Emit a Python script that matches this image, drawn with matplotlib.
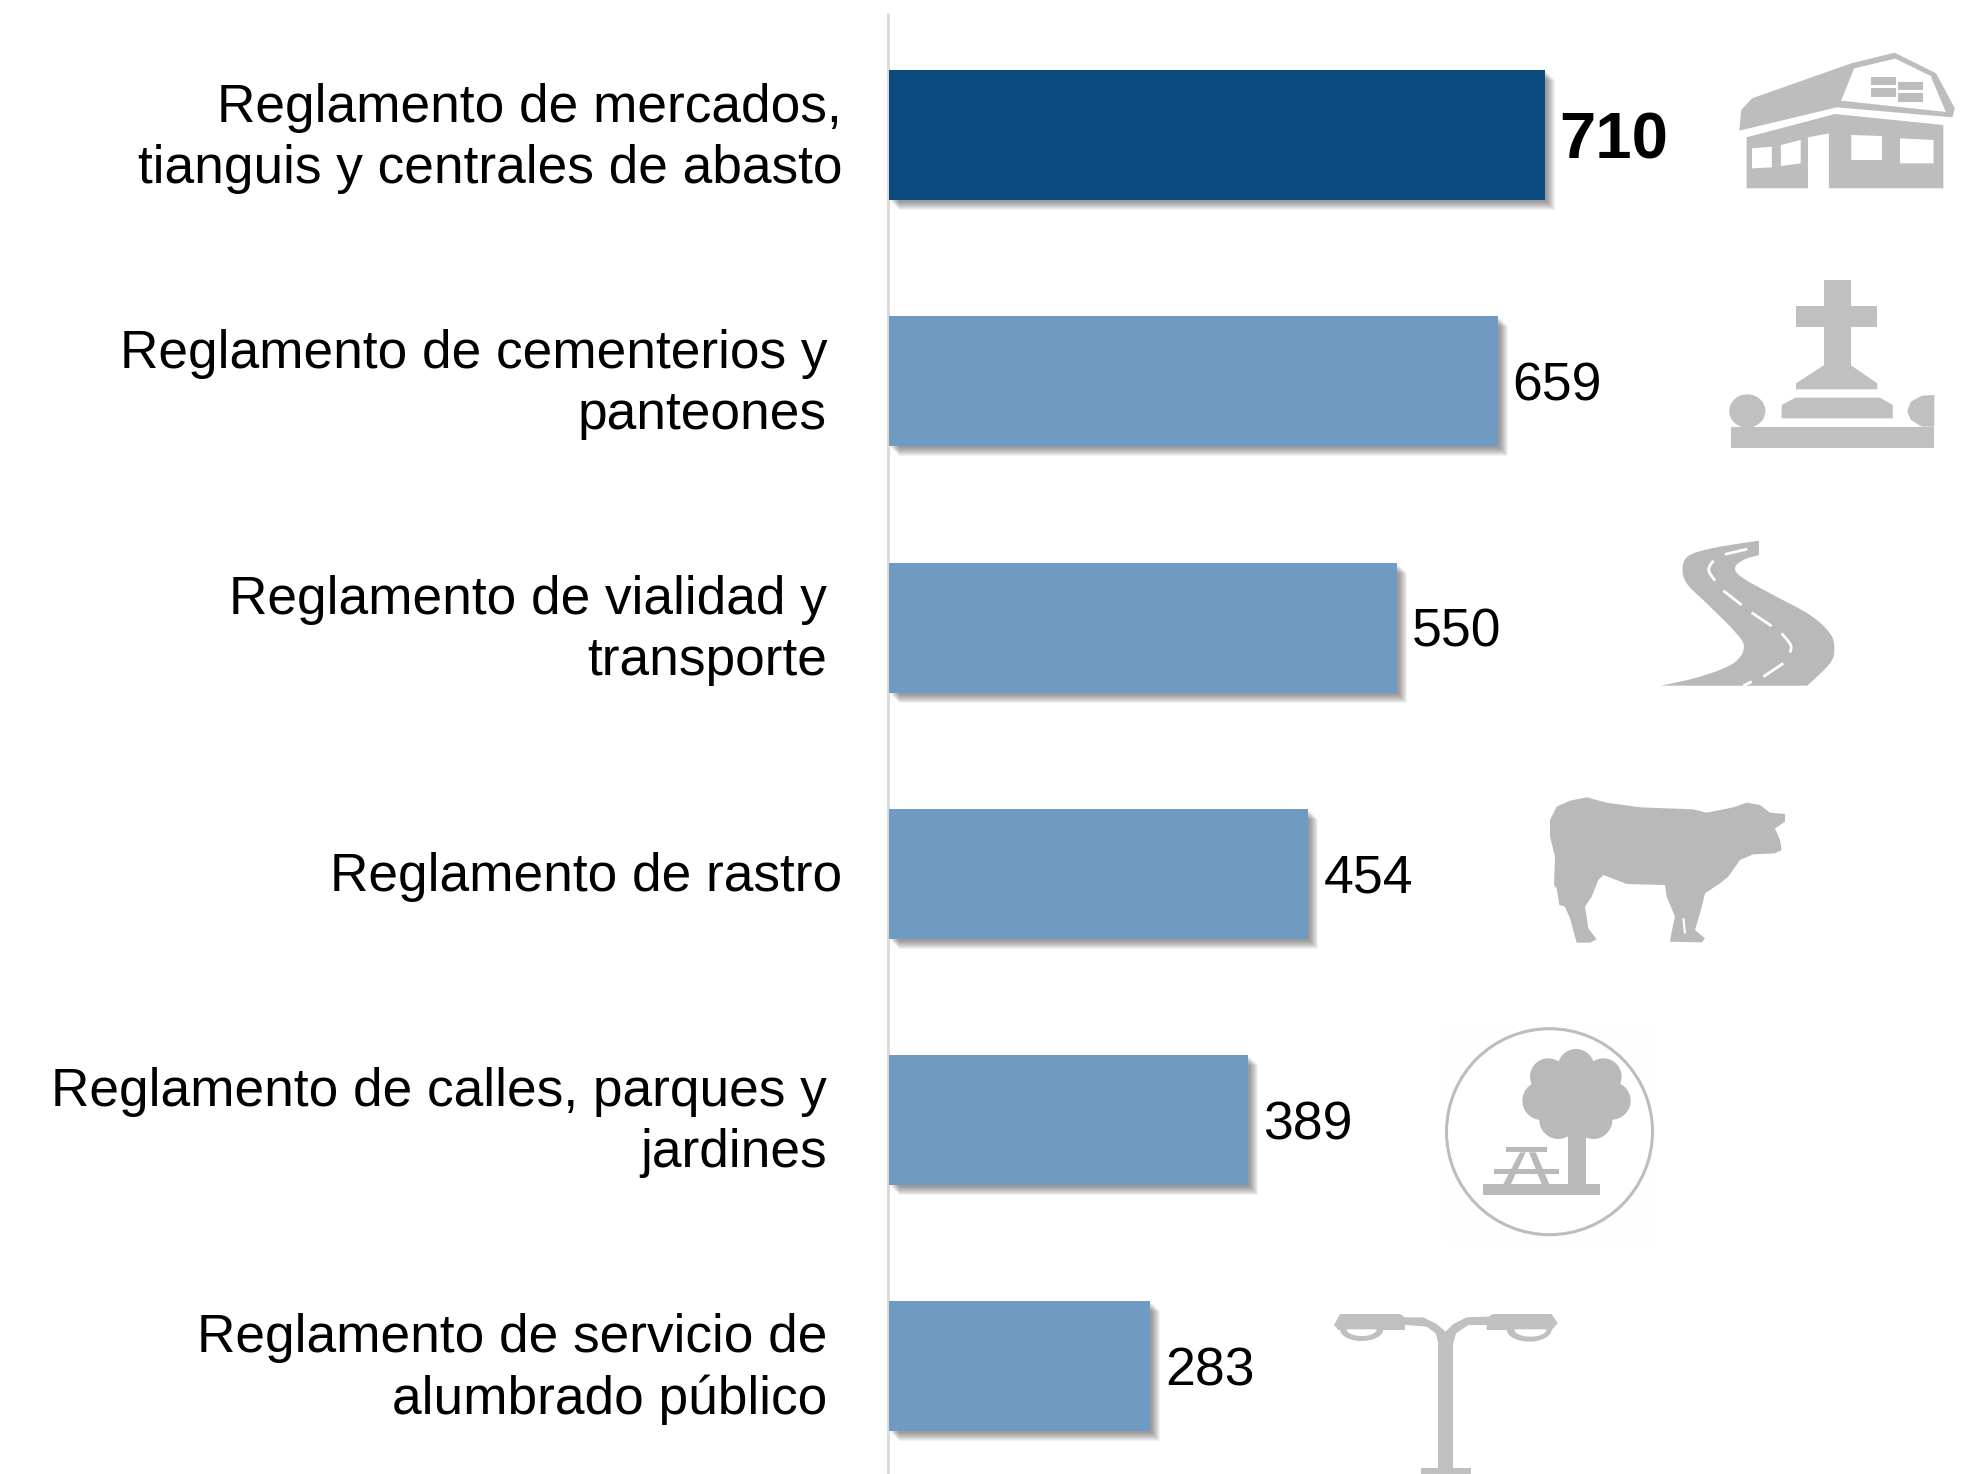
#!/usr/bin/env python3
"""Reglamentos municipales: horizontal bars with grey pictograms."""
import matplotlib

matplotlib.use("Agg")
import matplotlib.patheffects as pe
import matplotlib.pyplot as plt
import numpy as np
from matplotlib.patches import Circle, Polygon, Rectangle

categories = [
    "Reglamento de mercados,\ntianguis y centrales de abasto",
    "Reglamento de cementerios y\npanteones",
    "Reglamento de vialidad y\ntransporte",
    "Reglamento de rastro",
    "Reglamento de calles, parques y\njardines",
    "Reglamento de servicio de\nalumbrado público",
]
values = [710, 659, 550, 454, 389, 283]
label_pads = [47, 62, 62, 47, 62, 62]  # px left of the axis line

DARK = "#0a4a7f"
LIGHT = "#6f9bc2"
ICON = "#bdbdbd"
W, H = 1966, 1474
PX_PER_UNIT = 0.9235
PT = 0.72  # points per pixel at dpi 100

plt.rcParams["font.family"] = ["Liberation Sans", "DejaVu Sans"]

fig = plt.figure(figsize=(W / 100, H / 100), dpi=100)
ax = fig.add_axes([889 / W, 0, (W - 889) / W, 1])
ax.set_xlim(0, (W - 889) / PX_PER_UNIT)
ax.set_ylim((H - 135.2) / 246.2, -135.2 / 246.2)
ax.axis("off")

shadow = [pe.SimplePatchShadow(offset=(k * PT, -k * PT), shadow_rgbFace="k", alpha=0.05) for k in range(10, 1, -1)]
y = np.arange(len(categories))
colors = [DARK] + [LIGHT] * (len(categories) - 1)
bars = ax.barh(y, values, height=130 / 246.2, color=colors, lw=0, zorder=3)
for b in bars:
    b.set_path_effects(shadow + [pe.Normal()])

for i, (cat, val, pad) in enumerate(zip(categories, values, label_pads)):
    ax.annotate(cat, (0, i), xytext=(-pad * PT, -2.9 * PT), textcoords="offset points", ha="right", va="center",
                fontsize=38.3, color="k", linespacing=1.286, multialignment="right", annotation_clip=False)
    first = i == 0
    ax.annotate(str(val), (val, i), xytext=(15 * PT, (-6.5 if first else -5) * PT), textcoords="offset points", ha="left", va="center",
                fontsize=47 if first else 38.5, fontweight="bold" if first else "normal", color="k")

# overlay in image pixels for the axis line and the pictograms
ov = fig.add_axes([0, 0, 1, 1], zorder=-1)
ov.set_xlim(0, W)
ov.set_ylim(H, 0)
ov.axis("off")
ov.plot([888, 888], [13, H], color="#d9d9d9", lw=2, solid_capstyle="butt", zorder=1)


def smooth(pts, n=6):
    # open catmull-rom through the outline points
    p = np.array(pts, float)
    p = np.r_[p[:1], p, p[-1:]]
    out = []
    for i in range(1, len(p) - 2):
        p0, p1, p2, p3 = p[i - 1], p[i], p[i + 1], p[i + 2]
        for t in np.linspace(0, 1, n, endpoint=False):
            out.append(0.5 * (2 * p1 + (p2 - p0) * t + (2 * p0 - 5 * p1 + 4 * p2 - p3) * t**2 + (3 * p1 - p0 - 3 * p2 + p3) * t**3))
    out.append(p[-1])
    return np.array(out)


class Icon:
    def __init__(self, ox, oy, color=ICON, sx=3.0, sy=3.0):
        self.ox, self.oy, self.color = ox, oy, color
        self.scale = np.array([sx, sy])

    def xy(self, pts):
        return np.array(pts, float) / self.scale + [self.ox, self.oy]

    def poly(self, pts, color=None, z=3):
        ov.add_patch(Polygon(self.xy(pts), closed=True, fc=color or self.color, ec="none", zorder=z))

    def rect(self, x0, y0, x1, y1, color=None, z=3):
        self.poly([(x0, y0), (x1, y0), (x1, y1), (x0, y1)], color, z)

    def circle(self, cx, cy, r, z=3):
        t = np.linspace(0, 2 * np.pi, 60)
        self.poly(np.c_[cx + r * np.cos(t), cy + r * np.sin(t)], z=z)

    def line(self, pts, color="white", lw=2.0, z=4):
        q = self.xy(pts)
        ov.plot(q[:, 0], q[:, 1], color=color, lw=lw, solid_capstyle="butt", zorder=z)

    def lower_half(self, x0, x1, y0, depth, color=None, z=3):
        t = np.linspace(0, np.pi, 30)
        cx, rx = (x0 + x1) / 2, (x1 - x0) / 2
        self.poly(np.c_[cx + rx * np.cos(t), y0 + depth * np.sin(t)], color, z)


# barn
barn = Icon(1400, 30, sx=2.77)
barn.poly([(940, 302), (945, 240), (975, 205), (1250, 100), (1370, 68), (1485, 130), (1537, 235), (1530, 262), (1210, 232)])
barn.poly([(1258, 115), (1372, 86), (1470, 138), (1512, 246), (1222, 212)], "white", 4)
for x0, y0 in [(1305, 140), (1305, 175), (1380, 155), (1380, 190)]:
    barn.rect(x0, y0, x0 + 68, y0 + 26, z=5)
barn.poly([(960, 322), (1205, 252), (1505, 285), (1505, 475), (1188, 475), (1188, 310), (1130, 322), (1130, 475), (960, 475)])
barn.poly([(975, 355), (1030, 350), (1030, 412), (975, 415)], "white", 4)
barn.poly([(1055, 345), (1110, 330), (1110, 400), (1055, 408)], "white", 4)
barn.poly([(1250, 315), (1335, 318), (1335, 390), (1250, 390)], "white", 4)
barn.poly([(1385, 325), (1478, 330), (1478, 400), (1385, 400)], "white", 4)

# grave
grave = Icon(1400, 30, "#c0c0c0", sx=2.77)
grave.rect(1175, 750, 1248, 1040)
grave.rect(1097, 828, 1322, 892)
grave.poly([(1175, 1005), (1248, 1005), (1322, 1060), (1322, 1078), (1097, 1078), (1097, 1060)])
grave.poly([(1057, 1165), (1057, 1125), (1095, 1103), (1330, 1103), (1365, 1125), (1365, 1165)])
grave.rect(918, 1190, 1480, 1255)
grave.circle(962, 1143, 50)
grave.poly([(1480, 1095), (1445, 1097), (1415, 1115), (1405, 1143), (1415, 1170), (1445, 1190), (1480, 1190)])

# road
road = Icon(1400, 520, "#b9b9b9")
left_edge = smooth([(783, 497), (900, 470), (1000, 430), (1032, 380), (1000, 330), (920, 250), (860, 190), (848, 140), (870, 105), (950, 82), (1077, 62)])
right_edge = smooth([(1077, 105), (1030, 120), (1005, 145), (1030, 175), (1120, 225), (1230, 285), (1290, 340), (1303, 385), (1290, 430), (1222, 497)])
road.poly(np.r_[left_edge, right_edge])
road.line([(975, 103), (1042, 87)])
road.line(smooth([(940, 122), (926, 150), (945, 182)]))
road.line([(970, 212), (1025, 255)])
road.line([(1055, 278), (1115, 318)])
road.line(smooth([(1145, 340), (1172, 375), (1170, 398)]))
road.line([(1150, 430), (1090, 470)])
road.line([(1055, 485), (1030, 497)])

# cow
cow = Icon(1400, 520, "#b9b9b9")
cow.poly([(450, 900), (470, 860), (510, 842), (560, 832), (620, 848), (720, 862), (880, 868), (920, 878), (1000, 862), (1040, 848),
          (1080, 855), (1110, 878), (1155, 882), (1155, 905), (1125, 925), (1140, 960), (1145, 990), (1125, 1000), (1060, 1003),
          (1020, 1020), (985, 1070), (960, 1090), (915, 1120), (900, 1180), (885, 1230), (915, 1255), (905, 1267), (810, 1265),
          (815, 1235), (825, 1190), (800, 1130), (795, 1095), (680, 1092), (610, 1065), (595, 1080), (575, 1130), (555, 1160),
          (565, 1225), (590, 1258), (570, 1268), (530, 1268), (510, 1195), (495, 1160), (478, 1155), (470, 1105), (462, 1095),
          (465, 1010), (450, 950)])
cow.line([(850, 1195), (855, 1240)], lw=1.5)

# park
park = Icon(1430, 1010, "#b9b9b9")
ov.add_patch(Rectangle((1445, 1024), 208, 222, fc="#fefefe", ec="none", zorder=1))
ov.add_patch(Circle((1549.5, 1131.7), 103, fc="white", ec="#bdbdbd", lw=2.2, zorder=2))
for cx, cy, r in [(355, 200, 55), (438, 172, 55), (520, 200, 55), (335, 272, 58), (545, 272, 57), (385, 330, 57), (490, 330, 57), (438, 260, 110)]:
    park.circle(cx, cy, r)
park.rect(413, 370, 467, 525)
park.rect(160, 522, 510, 556)
park.rect(227, 411, 352, 427)
park.rect(192, 478, 387, 493)
park.poly([(270, 427), (287, 427), (243, 522), (220, 522)])
park.poly([(297, 427), (317, 427), (358, 522), (335, 522)])

# street lamp
lamp = Icon(1320, 1300, "#c0c0c0")
lamp.poly([(42, 75), (60, 42), (240, 42), (255, 52), (310, 52), (350, 72), (377, 95), (400, 72), (440, 52), (505, 50), (520, 42), (695, 42),
           (713, 70), (695, 90), (500, 90), (500, 75), (445, 75), (408, 100), (400, 130), (355, 130), (347, 100), (320, 80), (255, 75), (255, 90), (55, 90)])
lamp.rect(355, 120, 400, 510)
lamp.rect(303, 505, 452, 522)
lamp.lower_half(60, 190, 88, 35)
lamp.lower_half(80, 170, 88, 20, "white", 4)
lamp.lower_half(560, 695, 88, 37)
lamp.lower_half(583, 680, 88, 22, "white", 4)

fig.savefig("out.png", dpi=100)
plt.close(fig)
